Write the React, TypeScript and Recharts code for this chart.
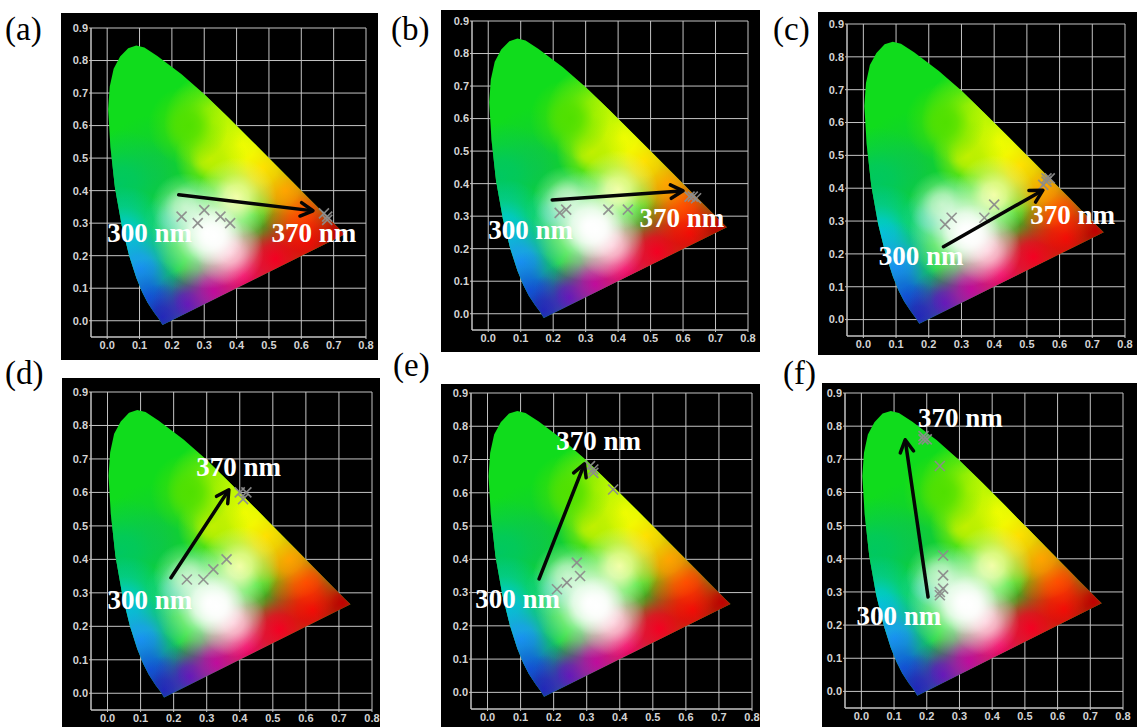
import React from 'react';
import { ScatterChart, Scatter, XAxis, YAxis, CartesianGrid } from 'recharts';

// ---------- axis ticks ----------
const X_TICKS = [0, 0.1, 0.2, 0.3, 0.4, 0.5, 0.6, 0.7, 0.8];
const Y_TICKS = [0, 0.1, 0.2, 0.3, 0.4, 0.5, 0.6, 0.7, 0.8, 0.9];
const X_DOMAIN = [-0.05, 0.8];
const Y_DOMAIN = [-0.05, 0.9];

// ---------- spectral locus ----------
const LOCUS = [
  [0.171, -0.013], [0.160, 0.005], [0.145, 0.025], [0.125, 0.055], [0.108, 0.088],
  [0.090, 0.132], [0.068, 0.200], [0.045, 0.292], [0.024, 0.410], [0.010, 0.535],
  [0.003, 0.650], [0.008, 0.720], [0.020, 0.775], [0.040, 0.812], [0.065, 0.838],
  [0.090, 0.846], [0.115, 0.840], [0.155, 0.814], [0.230, 0.758], [0.302, 0.695],
  [0.373, 0.626], [0.444, 0.556], [0.512, 0.488], [0.575, 0.425], [0.627, 0.373],
  [0.666, 0.334], [0.692, 0.308], [0.708, 0.292], [0.719, 0.281], [0.735, 0.266],
];

// colour anchors inside the diagram (chromaticity position + its colour)
const BLOB_POS = [
  [0.15, 0.45], [0.04, 0.42], [0.05, 0.26], [0.10, 0.16], [0.13, 0.07],
  [0.17, 0.01], [0.25, 0.05], [0.33, 0.09], [0.42, 0.14], [0.52, 0.19],
  [0.62, 0.25], [0.71, 0.27], [0.60, 0.33], [0.55, 0.40], [0.48, 0.47],
  [0.41, 0.54], [0.33, 0.61], [0.32, 0.50], [0.25, 0.60], [0.20, 0.31],
  [0.40, 0.38], [0.24, 0.35], [0.38, 0.21], [0.31, 0.27], [0.33, 0.26],
];
const BLOB_COLORS = [
  '#10c840', '#00c860', '#00c8d8', '#1a9cf5', '#1060e0',
  '#1a2ab8', '#4a1cc0', '#b010a8', '#f00078', '#f5002a',
  '#ee0008', '#c00000', '#ff3000', '#ff9000', '#ffd000',
  '#ffff00', '#c8f800', '#c0f000', '#50e000', '#20d0a0',
  '#f0ff98', '#a8f0b0', '#ffa8c0', '#ffffff', '#ffffff',
];
const BLOB_RADII = [
  60, 55, 50, 46, 40,
  34, 36, 42, 46, 50,
  50, 30, 38, 42, 48,
  52, 50, 36, 40, 28,
  40, 34, 34, 56, 30,
];

// ---------- measured points per panel ----------
const POINTS_A = [[0.23, 0.32], [0.28, 0.30], [0.30, 0.34], [0.35, 0.32], [0.38, 0.30], [0.67, 0.33], [0.68, 0.32], [0.68, 0.31]];
const POINTS_B = [[0.22, 0.31], [0.24, 0.32], [0.37, 0.32], [0.43, 0.32], [0.62, 0.36], [0.63, 0.36], [0.64, 0.355]];
const POINTS_C = [[0.25, 0.29], [0.27, 0.31], [0.37, 0.31], [0.40, 0.35], [0.55, 0.41], [0.56, 0.42], [0.57, 0.43], [0.56, 0.43]];
const POINTS_D = [[0.24, 0.34], [0.29, 0.34], [0.32, 0.37], [0.36, 0.40], [0.40, 0.60], [0.42, 0.60], [0.41, 0.58]];
const POINTS_E = [[0.21, 0.31], [0.24, 0.33], [0.27, 0.39], [0.28, 0.35], [0.32, 0.67], [0.32, 0.66], [0.31, 0.68], [0.38, 0.61]];
const POINTS_F = [[0.19, 0.77], [0.20, 0.76], [0.19, 0.76], [0.24, 0.68], [0.25, 0.41], [0.25, 0.35], [0.25, 0.31], [0.24, 0.30], [0.24, 0.29]];

// arrows: [start, end]
const ARROW_A = [[0.221, 0.387], [0.636, 0.338]];
const ARROW_B = [[0.197, 0.35], [0.60, 0.378]];
const ARROW_C = [[0.245, 0.222], [0.549, 0.394]];
const ARROW_D = [[0.192, 0.345], [0.367, 0.608]];
const ARROW_E = [[0.156, 0.341], [0.293, 0.687]];
const ARROW_F = [[0.204, 0.285], [0.134, 0.759]];

// wavelength annotations: [text, x, y]
const LABELS_A = [['300 nm', 0.0, 0.27], ['370 nm', 0.508, 0.27]];
const LABELS_B = [['300 nm', 0.0, 0.258], ['370 nm', 0.466, 0.293]];
const LABELS_C = [['300 nm', 0.047, 0.194], ['370 nm', 0.51, 0.317]];
const LABELS_D = [['300 nm', 0.0, 0.278], ['370 nm', 0.268, 0.676]];
const LABELS_E = [['300 nm', -0.037, 0.28], ['370 nm', 0.208, 0.756]];
const LABELS_F = [['300 nm', -0.015, 0.227], ['370 nm', 0.173, 0.826]];

const PANEL_TITLES = ['(a)', '(b)', '(c)', '(d)', '(e)', '(f)'];

// ---------- layout (style only) ----------
const LAYOUT = [
  { left: 61, top: 13, w: 317, h: 347, mt: 15, mr: 12, yw: 30, xh: 23, tl: 5, tt: 13 },
  { left: 441, top: 10, w: 319, h: 342, mt: 11, mr: 12, yw: 31, xh: 22, tl: 391, tt: 13 },
  { left: 818, top: 12, w: 319, h: 343, mt: 12, mr: 12, yw: 29, xh: 19, tl: 773, tt: 13 },
  { left: 62, top: 378, w: 318, h: 349, mt: 14, mr: 8, yw: 29, xh: 17, tl: 5, tt: 357 },
  { left: 441, top: 384, w: 319, h: 343, mt: 9, mr: 8, yw: 30, xh: 18, tl: 393, tt: 349 },
  { left: 822, top: 383, w: 315, h: 344, mt: 10, mr: 14, yw: 23, xh: 19, tl: 783, tt: 357 },
];

const PANELS = [
  { id: 'a', points: POINTS_A, arrow: ARROW_A, labels: LABELS_A },
  { id: 'b', points: POINTS_B, arrow: ARROW_B, labels: LABELS_B },
  { id: 'c', points: POINTS_C, arrow: ARROW_C, labels: LABELS_C },
  { id: 'd', points: POINTS_D, arrow: ARROW_D, labels: LABELS_D },
  { id: 'e', points: POINTS_E, arrow: ARROW_E, labels: LABELS_E },
  { id: 'f', points: POINTS_F, arrow: ARROW_F, labels: LABELS_F },
];

const GRID = '#c4c4c4';
const TICK_STYLE = { fill: '#d4d4d4', fontSize: 11, fontWeight: 700, fontFamily: 'Liberation Sans, Arial, sans-serif' };
const fmt = (v: number) => v.toFixed(1);

const Nothing = () => <g />;

function LocusFill(props: any) {
  const { id, points } = props;
  if (!points || !points.length) return null;
  const pts = points.map((p: any) => `${p.x},${p.y}`).join(' ');
  return (
    <g>
      <defs>
        <clipPath id={`clip-${id}`}>
          <polygon points={pts} />
        </clipPath>
        {BLOB_COLORS.map((c, i) => (
          <radialGradient key={i} id={`grad-${id}-${i}`}>
            <stop offset="0" stopColor={c} stopOpacity={1} />
            <stop offset="0.3" stopColor={c} stopOpacity={0.82} />
            <stop offset="0.6" stopColor={c} stopOpacity={0.38} />
            <stop offset="1" stopColor={c} stopOpacity={0} />
          </radialGradient>
        ))}
      </defs>
      <polygon points={pts} fill="#10dc1c" stroke="none" />
    </g>
  );
}

function ArrowLine(props: any) {
  const { points } = props;
  if (!points || points.length < 2) return null;
  const p0 = points[0];
  const p1 = points[1];
  const dx = p1.x - p0.x;
  const dy = p1.y - p0.y;
  const len = Math.sqrt(dx * dx + dy * dy) || 1;
  const ux = dx / len;
  const uy = dy / len;
  const L = 14;
  const a = 0.5;
  const ca = Math.cos(a);
  const sa = Math.sin(a);
  const h1x = p1.x - L * (ux * ca - uy * sa);
  const h1y = p1.y - L * (uy * ca + ux * sa);
  const h2x = p1.x - L * (ux * ca + uy * sa);
  const h2y = p1.y - L * (uy * ca - ux * sa);
  return (
    <g stroke="#050505" strokeWidth={3.5} fill="none" strokeLinecap="round" strokeLinejoin="round">
      <line x1={p0.x} y1={p0.y} x2={p1.x - ux * 1.5} y2={p1.y - uy * 1.5} />
      <polyline points={`${h1x},${h1y} ${p1.x},${p1.y} ${h2x},${h2y}`} />
    </g>
  );
}

const Cross = (props: any) => {
  const { cx, cy } = props;
  const s = 5;
  return (
    <g stroke="#8c8c8c" strokeWidth={1.6} strokeOpacity={0.95}>
      <line x1={cx - s} y1={cy - s} x2={cx + s} y2={cy + s} />
      <line x1={cx - s} y1={cy + s} x2={cx + s} y2={cy - s} />
    </g>
  );
};

function Panel({ panel, layout, title }: any) {
  const { id } = panel;
  const locusData = LOCUS.map(([x, y]) => ({ x, y }));
  const blobData = BLOB_POS.map(([x, y], i) => ({ x, y, i, r: BLOB_RADII[i] }));
  const pointData = panel.points.map(([x, y]: number[]) => ({ x, y }));
  const arrowData = panel.arrow.map(([x, y]: number[]) => ({ x, y }));
  const labelData = panel.labels.map(([t, x, y]: any[]) => ({ x, y, t }));

  return (
    <>
      <div
        style={{
          position: 'absolute',
          left: layout.tl,
          top: layout.tt,
          fontFamily: '"Liberation Serif", "Times New Roman", serif',
          fontSize: 33,
          lineHeight: '33px',
          color: '#000',
          whiteSpace: 'nowrap',
        }}
      >
        {title}
      </div>
      <div
        style={{
          position: 'absolute',
          left: layout.left,
          top: layout.top,
          width: layout.w,
          height: layout.h,
          background: '#000',
        }}
      >
        <ScatterChart
          width={layout.w}
          height={layout.h}
          margin={{ top: layout.mt, right: layout.mr, bottom: 0, left: 0 }}
        >
          <CartesianGrid stroke={GRID} strokeWidth={1} />
          <XAxis
            type="number"
            dataKey="x"
            domain={X_DOMAIN}
            ticks={X_TICKS}
            interval={0}
            allowDataOverflow
            height={layout.xh}
            tickFormatter={fmt}
            tick={TICK_STYLE}
            stroke={GRID}
            tickSize={2}
            tickMargin={2}
          />
          <YAxis
            type="number"
            dataKey="y"
            domain={Y_DOMAIN}
            ticks={Y_TICKS}
            interval={0}
            allowDataOverflow
            width={layout.yw}
            tickFormatter={fmt}
            tick={TICK_STYLE}
            stroke={GRID}
            tickSize={2}
            tickMargin={1}
          />
          <Scatter
            data={locusData}
            isAnimationActive={false}
            shape={Nothing}
            lineType="joint"
            line={(p: any) => <LocusFill id={id} points={p.points} />}
          />
          <Scatter
            data={blobData}
            isAnimationActive={false}
            shape={(p: any) => (
              <circle
                cx={p.cx}
                cy={p.cy}
                r={p.payload.r}
                fill={`url(#grad-${id}-${p.payload.i})`}
                clipPath={`url(#clip-${id})`}
              />
            )}
          />
          <Scatter data={pointData} isAnimationActive={false} shape={Cross} />
          <Scatter
            data={arrowData}
            isAnimationActive={false}
            shape={Nothing}
            lineType="joint"
            line={(p: any) => <ArrowLine points={p.points} />}
          />
          <Scatter
            data={labelData}
            isAnimationActive={false}
            shape={(p: any) => (
              <text
                x={p.cx}
                y={p.cy}
                fill="#ffffff"
                fontFamily='"Liberation Serif", "Times New Roman", serif'
                fontWeight={700}
                fontSize={27}
                dominantBaseline="central"
              >
                {p.payload.t}
              </text>
            )}
          />
        </ScatterChart>
      </div>
    </>
  );
}

export default function App() {
  return (
    <div
      style={{
        position: 'absolute',
        left: 0,
        top: 0,
        width: 1137,
        height: 727,
        background: '#fff',
        overflow: 'hidden',
      }}
    >
      {PANELS.map((p, i) => (
        <Panel key={p.id} panel={p} layout={LAYOUT[i]} title={PANEL_TITLES[i]} />
      ))}
    </div>
  );
}
